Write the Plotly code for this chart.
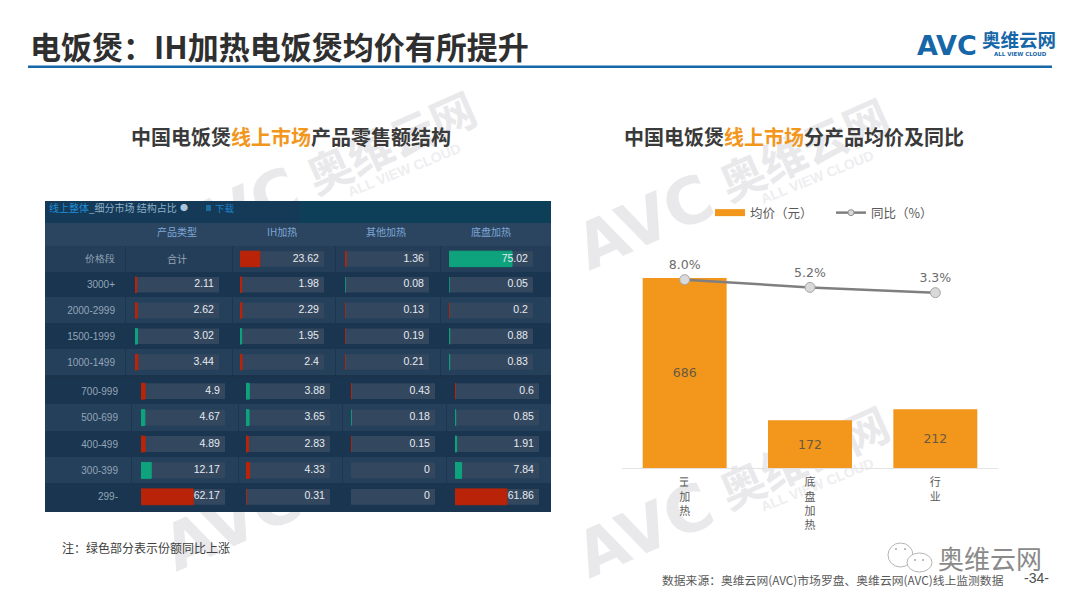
import plotly.graph_objects as go

W = 1080
H = 608

# right chart
products = ["IH加热", "底盘加热", "行业"]
product_ticks = ["<br>加<br>热", "底<br>盘<br>加<br>热", "行<br>业"]
avg_price = [686, 172, 212]
yoy_pct = [8.0, 5.2, 3.3]
yoy_labels = ["8.0%", "5.2%", "3.3%"]

# left table
col_names = ["产品类型", "IH加热", "其他加热", "底盘加热"]
top_rows = ["价格段", "3000+", "2000-2999", "1500-1999", "1000-1499"]
bottom_rows = ["700-999", "500-699", "400-499", "300-399", "299-"]

total_top = [None, 2.11, 2.62, 3.02, 3.44]
ih_top = [23.62, 1.98, 2.29, 1.95, 2.4]
other_top = [1.36, 0.08, 0.13, 0.19, 0.21]
bottom_heat_top = [75.02, 0.05, 0.2, 0.88, 0.83]

total_bottom = [4.9, 4.67, 4.89, 12.17, 62.17]
ih_bottom = [3.88, 3.65, 2.83, 4.33, 0.31]
other_bottom = [0.43, 0.18, 0.15, 0, 0]
bottom_heat_bottom = [0.6, 0.85, 1.91, 7.84, 61.86]

# r = share down, g = share up
total_top_dir = ["r", "r", "r", "g", "r"]
ih_top_dir = ["r", "r", "r", "g", "r"]
other_top_dir = ["r", "g", "r", "r", "r"]
bottom_heat_top_dir = ["g", "g", "r", "g", "g"]

total_bottom_dir = ["r", "g", "r", "g", "r"]
ih_bottom_dir = ["g", "g", "r", "r", "r"]
other_bottom_dir = ["r", "g", "r", "r", "r"]
bottom_heat_bottom_dir = ["r", "g", "g", "g", "r"]

RED = "#b92408"
GREEN = "#0ea37c"
TRACK = "#33475f"
ORANGE = "#f2961c"
CJK = "Noto Sans CJK SC"


def xp(px):
    return px / W


def yp(py):
    return 1 - py / H


fig = go.Figure()

# bars + line
fig.add_trace(go.Bar(
    x=products, y=avg_price, showlegend=False,
    marker=dict(color=ORANGE, line_width=0),
    text=avg_price, textposition="inside", insidetextanchor="middle",
    textfont=dict(family="DejaVu Sans", size=12.5, color="#6a5a40"),
    xaxis="x", yaxis="y",
))
fig.add_trace(go.Scatter(
    x=products, y=yoy_pct, showlegend=False, mode="lines+markers+text",
    line=dict(color="#7f7f7f", width=2.5),
    marker=dict(size=10, color="#d9d9d9", line=dict(color="#a6a6a6", width=1)),
    text=yoy_labels, textposition="top center",
    textfont=dict(family="DejaVu Sans", size=12.5, color="#6b6b6b"),
    xaxis="x", yaxis="y2",
))
# legend entries, the reference has a long flat swatch and a small marker
fig.add_trace(go.Scatter(
    x=[None], y=[None], name="均价（元）", mode="lines",
    line=dict(color=ORANGE, width=7), xaxis="x", yaxis="y",
))
fig.add_trace(go.Scatter(
    x=[None], y=[None], name="同比（%）", mode="lines+markers",
    line=dict(color="#7f7f7f", width=2.5),
    marker=dict(size=6, color="#d9d9d9", line=dict(color="#8f8f8f", width=1)),
    xaxis="x", yaxis="y2",
))

# table: one x axis per column and block, one y axis per block
blocks = [
    dict(rows=top_rows, yaxis="y3", lefts=[135, 240, 345, 449],
         values=[total_top, ih_top, other_top, bottom_heat_top],
         dirs=[total_top_dir, ih_top_dir, other_top_dir, bottom_heat_top_dir]),
    dict(rows=bottom_rows, yaxis="y4", lefts=[141, 246, 351, 455],
         values=[total_bottom, ih_bottom, other_bottom, bottom_heat_bottom],
         dirs=[total_bottom_dir, ih_bottom_dir, other_bottom_dir, bottom_heat_bottom_dir]),
]
TRACK_MAX = 100
LABEL_AT = 94

x_axes = {}
n = 2
for block in blocks:
    for left, vals, dirs in zip(block["lefts"], block["values"], block["dirs"]):
        xname = "x" + str(n)
        x_axes["xaxis" + str(n)] = dict(
            domain=[xp(left), xp(left + 84)], range=[0, TRACK_MAX],
            visible=False, anchor=block["yaxis"], fixedrange=True,
        )
        fig.add_trace(go.Bar(
            x=[None if v is None else TRACK_MAX for v in vals], y=block["rows"],
            orientation="h", marker=dict(color=TRACK, line_width=0), showlegend=False,
            xaxis=xname, yaxis=block["yaxis"],
        ))
        colors = [GREEN if d == "g" else RED for d in dirs]
        fig.add_trace(go.Bar(
            x=vals, y=block["rows"], orientation="h", showlegend=False,
            marker=dict(color=colors, line=dict(
                color=colors, width=[1 if v else 0 for v in vals])),
            xaxis=xname, yaxis=block["yaxis"],
        ))
        fig.add_trace(go.Scatter(
            x=[None if v is None else LABEL_AT for v in vals], y=block["rows"],
            mode="text", text=["" if v is None else str(v) for v in vals],
            textposition="middle left", showlegend=False, cliponaxis=False,
            textfont=dict(family="Liberation Sans", size=10.5, color="#e6ebf0"),
            xaxis=xname, yaxis=block["yaxis"],
        ))
        n += 1

# panel background
shapes = []


def band(x0, y0, x1, y1, color):
    shapes.append(dict(type="rect", xref="paper", yref="paper", layer="below",
                       x0=xp(x0), x1=xp(x1), y0=yp(y1), y1=yp(y0),
                       fillcolor=color, line_width=0))


band(45, 201, 551, 512, "#1a3550")
band(45, 201, 300, 223, "#143a58")
band(300, 201, 551, 223, "#0e3f58")
band(45, 223, 551, 246, "#2b4560")
band(45, 246, 551, 272, "#243e59")
band(45, 297, 551, 323, "#25405b")
band(45, 349, 551, 375, "#25405b")
band(45, 404, 551, 431, "#25405b")
band(45, 457, 551, 483, "#25405b")
band(45, 375, 551, 378, "#1b344c")
for sep in [125, 232, 335, 440]:
    band(sep, 246, sep + 1, 375, "#1c3650")
for sep in [131, 238, 342, 446]:
    band(sep, 378, sep + 1, 510, "#1c3650")
# download icon
band(206, 205, 211, 211, "#1d6a9e")
# top rule
band(28, 65.5, 1052, 68, "#1666a8")

# wechat bubbles
for cx0, cy0, cx1, cy1 in [(888, 543, 913, 567), (907, 553, 932, 572)]:
    shapes.append(dict(type="circle", xref="paper", yref="paper",
                       x0=xp(cx0), x1=xp(cx1), y0=yp(cy1), y1=yp(cy0),
                       fillcolor="white", line=dict(color="#b5b5b5", width=1)))
for cx, cy in [(896, 549), (905, 549), (915, 560), (923, 560)]:
    shapes.append(dict(type="circle", xref="paper", yref="paper",
                       x0=xp(cx - 1), x1=xp(cx + 1), y0=yp(cy + 1), y1=yp(cy - 1),
                       fillcolor="#a8a8a8", line_width=0))

annotations = []


def text(px, py, s, size, color, anchor="left", angle=0, family=CJK):
    annotations.append(dict(
        xref="paper", yref="paper", x=xp(px - 2 if anchor == "left" else px), y=yp(py),
        text=s, showarrow=False,
        xanchor=anchor, yanchor="middle", textangle=angle,
        font=dict(family=family, size=size, color=color),
    ))


# watermarks, moved under the marks in post_script below
WM = "#e9e9eb"
WM_SOFT = "#eeeef0"
for ax, ay in [(232, 215), (645, 222), (232, 523), (645, 530)]:
    text(ax, ay, "<b>AVC</b>", 64, WM, "center", -24, "DejaVu Sans")
    text(ax + 158, ay - 75, "<b>奥维云网</b>", 45, WM, "center", -24)
    text(ax + 172, ay - 45, "<b>ALL VIEW CLOUD</b>", 14, WM_SOFT, "center", -22, "Liberation Sans")
wm_count = len(annotations)

# header
text(30, 45, "<b>电饭煲：IH加热电饭煲均价有所提升</b>", 31, "#2f2f2f")
text(917, 45, "<b>AVC</b>", 27, "#1666a8", family="DejaVu Sans")
text(982, 39, "<b>奥维云网</b>", 18.5, "#1666a8")
text(1020, 54, "<b>ALL VIEW CLOUD</b>", 5.5, "#1666a8", "center", family="DejaVu Sans")

hl = '<span style="color:#f2961c">线上市场</span>'
text(291, 137, "<b>中国电饭煲" + hl + "产品零售额结构</b>", 20, "#3a3a3a", "center")
text(794, 137, "<b>中国电饭煲" + hl + "分产品均价及同比</b>", 20, "#3a3a3a", "center")

# table titles
text(49, 208, '<span style="color:#1f8fd8">线上整体</span>_细分市场 结构占比', 10, "#8fb0c8")
text(180, 208, "●", 8, "#a9c4dc")
text(215, 208, "下载", 9.5, "#1f7fc8")
for name, cx in zip(col_names, [177, 282, 386, 491]):
    text(cx, 232, name, 10, "#7ea6d6", "center")
text(177, 258, "合计", 10, "#97a7b7", "center")

text(62, 547, "注：绿色部分表示份额同比上涨", 12, "#404040")
text(662, 579, "数据来源：奥维云网(AVC)市场罗盘、奥维云网(AVC)线上监测数据", 11.8, "#595959")
text(1036, 578, "-34-", 14, "#505050", "center", family="Liberation Sans")
text(938, 557, "奥维云网", 26, "#8a8a8a")

# IH runs sideways in the source tick label
annotations.append(dict(
    xref="x", yref="paper", x=products[0], y=yp(482), text="IH", showarrow=False,
    textangle=90, yanchor="middle", font=dict(family=CJK, size=11, color="#595959"),
))

PLOT_TOP = 246.4
PLOT_BOTTOM = 468

fig.update_layout(
    width=W, height=H, margin=dict(l=0, r=0, t=0, b=0),
    paper_bgcolor="white", plot_bgcolor="rgba(0,0,0,0)",
    barmode="overlay", bargap=0.33, showlegend=True,
    font=dict(family=CJK),
    legend=dict(
        orientation="h", x=xp(710), y=yp(213), xanchor="left", yanchor="middle",
        font=dict(family=CJK, size=12.5, color="#595959"),
        itemwidth=30, entrywidth=76, bgcolor="rgba(0,0,0,0)",
    ),
    xaxis=dict(
        domain=[xp(622), xp(998)], anchor="y", tickmode="array",
        tickvals=products, ticktext=product_ticks, ticklabelstandoff=4,
        tickfont=dict(family=CJK, size=11, color="#595959"),
        showline=True, linecolor="#e3e3e3", linewidth=1, ticks="", showgrid=False,
    ),
    yaxis=dict(domain=[yp(PLOT_BOTTOM), yp(PLOT_TOP)], range=[0, 800], visible=False),
    yaxis2=dict(domain=[yp(PLOT_BOTTOM), yp(PLOT_TOP)], range=[-60, 20], visible=False,
                overlaying="y", side="right"),
    yaxis3=dict(
        domain=[yp(375), yp(246)], type="category", categoryorder="array",
        categoryarray=top_rows, autorange="reversed", anchor="free", position=xp(115),
        showgrid=False, zeroline=False, showline=False, ticks="",
        tickfont=dict(family="Liberation Sans", size=10, color="#93a5b8"),
    ),
    yaxis4=dict(
        domain=[yp(510), yp(378)], type="category", categoryorder="array",
        categoryarray=bottom_rows, autorange="reversed", anchor="free", position=xp(118),
        showgrid=False, zeroline=False, showline=False, ticks="",
        tickfont=dict(family="Liberation Sans", size=10, color="#93a5b8"),
    ),
    shapes=shapes, annotations=annotations,
    **x_axes,
)
fig.update_traces(width=0.6, selector=dict(type="bar", orientation="h"))

# annotations always draw on top, the watermark has to sit under table and bars
post = """
document.body.style.margin='0';document.body.style.overflow='hidden';
var below=document.querySelector('.main-svg .layer-below');
document.querySelectorAll('.infolayer .annotation').forEach(function(a){
  if(+a.getAttribute('data-index')<%d){below.insertBefore(a,below.firstChild);}
});
""" % wm_count

fig.write_html("out.html", config={"displayModeBar": False}, post_script=post)
